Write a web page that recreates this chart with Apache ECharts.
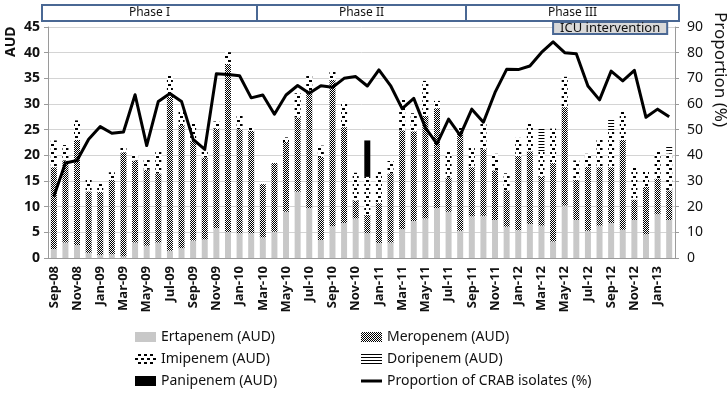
<!DOCTYPE html>
<html>
<head>
<meta charset="utf-8">
<script src="https://cdn.jsdelivr.net/npm/echarts@6/dist/echarts.min.js"></script>
<style>
  html, body { margin: 0; padding: 0; background: #fff; }
  #chart { width: 728px; height: 399px; }
</style>
</head>
<body>
<div id="chart"></div>
<script>
// monthly categories, Sep-08 .. Feb-13
const months = [
  'Sep-08', 'Oct-08', 'Nov-08', 'Dec-08',
  'Jan-09', 'Feb-09', 'Mar-09', 'Apr-09', 'May-09', 'Jun-09', 'Jul-09', 'Aug-09', 'Sep-09', 'Oct-09', 'Nov-09', 'Dec-09',
  'Jan-10', 'Feb-10', 'Mar-10', 'Apr-10', 'May-10', 'Jun-10', 'Jul-10', 'Aug-10', 'Sep-10', 'Oct-10', 'Nov-10', 'Dec-10',
  'Jan-11', 'Feb-11', 'Mar-11', 'Apr-11', 'May-11', 'Jun-11', 'Jul-11', 'Aug-11', 'Sep-11', 'Oct-11', 'Nov-11', 'Dec-11',
  'Jan-12', 'Feb-12', 'Mar-12', 'Apr-12', 'May-12', 'Jun-12', 'Jul-12', 'Aug-12', 'Sep-12', 'Oct-12', 'Nov-12', 'Dec-12',
  'Jan-13', 'Feb-13'
];

// AUD per drug (stacked)
const ertapenem = [
  1.7, 3.0, 2.5, 1.0, 0.6, 0.7, 0.3, 3.0, 2.4, 3.0,
  1.4, 1.9, 3.4, 3.6, 5.8, 5.0, 4.8, 4.8, 4.0, 5.1,
  9.0, 12.9, 9.7, 3.5, 6.2, 6.8, 7.7, 4.8, 2.9, 3.0,
  5.6, 7.2, 7.7, 9.7, 9.0, 5.3, 8.1, 8.2, 7.4, 6.1,
  5.4, 6.6, 6.3, 3.2, 10.2, 7.4, 5.3, 6.3, 6.8, 5.5,
  7.4, 4.6, 8.5, 7.4
];
const meropenem = [
  16, 16, 20.5, 12, 12.3, 14.5, 20.3, 16, 14.8, 13.5,
  30, 24, 19.5, 16, 19.4, 32.8, 20.3, 20, 10.4, 13.4,
  13.6, 14.5, 23, 16.2, 28.5, 18.7, 3.5, 3.6, 7.8, 13.5,
  19.3, 17.5, 20, 19.5, 6.7, 19.5, 9.6, 13, 9.7, 7.1,
  14.5, 14.2, 9.5, 15.3, 19.2, 7.8, 12.5, 11.4, 10.9, 17.5,
  4.0, 9.3, 7.0, 5.8
];
const imipenem = [
  5.2, 3.0, 3.8, 2.2, 1.6, 1.5, 1.1, 1.0, 1.9, 4.5,
  4.4, 2.9, 3.6, 1.2, 1.4, 2.3, 2.6, 0.7, 0.3, 0.2,
  0.9, 4.7, 2.8, 2.2, 1.8, 4.9, 5.4, 7.4, 6.4, 2.4,
  5.9, 3.5, 6.8, 1.4, 5.0, 0.8, 4.0, 5.0, 3.2, 3.3,
  3.5, 5.7, 5.0, 6.7, 5.9, 3.8, 2.5, 5.3, 7.2, 5.7,
  6.3, 2.9, 5.2, 7.2
];
const doripenem = [
  0, 0, 0, 0, 0, 0, 0, 0, 0, 0,
  0, 0, 0, 0, 0, 0, 0, 0, 0, 0,
  0, 0, 0, 0, 0, 0, 0, 0, 0, 0,
  0, 0, 0, 0, 0, 0, 0, 0, 0, 0,
  0, 0, 4.4, 0, 0, 0, 0, 0, 2.3, 0,
  0, 0, 0, 1.4
];
const panipenem = [
  0, 0, 0, 0, 0, 0, 0, 0, 0, 0,
  0, 0, 0, 0, 0, 0, 0, 0, 0, 0,
  0, 0, 0, 0, 0, 0, 0, 7.1, 0, 0,
  0, 0, 0, 0, 0, 0, 0, 0, 0, 0,
  0, 0, 0, 0, 0, 0, 0, 0, 0, 0,
  0, 0, 0, 0
];

// proportion of CRAB isolates (%)
const crab = [
  24, 37, 38, 46.3, 51.2, 48.6, 49.1, 63.6, 43.8, 61,
  64.1, 61, 46.2, 42.3, 71.8, 71.5, 71, 62.4, 63.5, 56,
  63.5, 67.2, 64.2, 67.1, 66.5, 70, 70.7, 67, 73.3, 67.2,
  58.2, 62.2, 50.8, 44.5, 54.1, 47.8, 58, 52.9, 64.5, 73.5,
  73.4, 74.8, 80.1, 84.2, 80, 79.6, 67, 61.6, 72.8, 69,
  73.1, 54.8, 58, 55
];

// study phases (category index ranges)
const phaseNames = ['Phase I', 'Phase II', 'Phase III'];
const phaseStart = [0, 18, 36];
const phaseEnd = [17, 35, 53];
const icuLabel = 'ICU intervention';
const icuStart = 43;
const icuEnd = 53;

const FONT = 'Noto Sans';
const chart = echarts.init(document.getElementById('chart'));

const barSeries = (name, data, color, decal) => ({
  name: name,
  type: 'bar',
  stack: 'aud',
  barWidth: 6,
  data: data,
  itemStyle: decal ? { color: color, decal: decal } : { color: color }
});

const meroDecal = {
  symbol: 'rect', symbolSize: 1, color: '#000', backgroundColor: '#fff',
  dashArrayX: [[1, 1], [0, 1, 1, 0]], dashArrayY: [1, 0]
};
const imiDecal = {
  symbol: 'rect', symbolSize: 1, color: '#000', backgroundColor: '#fff',
  dashArrayX: [[3, 3], [0, 3, 3, 0]], dashArrayY: [2, 2]
};
const doriDecal = {
  symbol: 'rect', symbolSize: 1, color: '#000', backgroundColor: '#fff',
  dashArrayX: [[1, 0]], dashArrayY: [1, 1.5]
};

const legendText = { fontFamily: FONT, fontSize: 14, color: '#111' };
const lineIcon = 'path://M0 0H21V3H0Z';
const legendBase = {
  orient: 'vertical', top: 325, height: 90, itemGap: 8,
  itemWidth: 21, itemHeight: 10, textStyle: legendText
};

chart.setOption({
  backgroundColor: '#fff',
  animation: false,
  textStyle: { fontFamily: FONT },
  grid: { left: 48, right: 52, top: 27, bottom: 141 },
  legend: [
    Object.assign({}, legendBase, {
      left: 130,
      data: [
        { name: 'Ertapenem (AUD)', icon: 'rect' },
        { name: 'Imipenem (AUD)', icon: 'rect' },
        { name: 'Panipenem (AUD)', icon: 'rect' }
      ]
    }),
    Object.assign({}, legendBase, {
      left: 356,
      data: [
        { name: 'Meropenem (AUD)', icon: 'rect' },
        { name: 'Doripenem (AUD)', icon: 'rect' },
        { name: 'Proportion of CRAB isolates (%)', icon: lineIcon }
      ]
    })
  ],
  xAxis: {
    type: 'category',
    data: months,
    axisLine: { lineStyle: { color: '#9a9a9a' } },
    axisTick: { interval: 1, length: 4, lineStyle: { color: '#9a9a9a' } },
    axisLabel: {
      interval: 1, rotate: 90, margin: 8,
      fontFamily: FONT, fontSize: 13, fontWeight: 'bold', color: '#111'
    }
  },
  yAxis: [
    {
      type: 'value', min: 0, max: 45, interval: 5,
      name: 'AUD', nameLocation: 'end', nameRotate: 90, nameGap: -30,
      nameTextStyle: {
        fontFamily: FONT, fontSize: 14, fontWeight: 'bold', color: '#111',
        verticalAlign: 'bottom', padding: [0, 0, 30, 0]
      },
      axisLine: { show: true, lineStyle: { color: '#9a9a9a' } },
      axisTick: { show: true, length: 4, lineStyle: { color: '#9a9a9a' } },
      axisLabel: { fontFamily: FONT, fontSize: 14, fontWeight: 'bold', color: '#111', margin: 8 },
      splitLine: { lineStyle: { color: '#d4d4d4' } }
    },
    {
      type: 'value', min: 0, max: 90, interval: 10,
      name: 'Proportion (%)', nameLocation: 'end', nameRotate: -90, nameGap: -100,
      nameTextStyle: {
        fontFamily: FONT, fontSize: 17, color: '#111',
        verticalAlign: 'bottom', padding: [0, 0, 36, 0]
      },
      axisLine: { show: true, lineStyle: { color: '#9a9a9a' } },
      axisTick: { show: true, length: 4, lineStyle: { color: '#9a9a9a' } },
      axisLabel: { fontFamily: FONT, fontSize: 14, color: '#111', margin: 12 },
      splitLine: { show: false }
    }
  ],
  series: [
    barSeries('Ertapenem (AUD)', ertapenem, '#c8c8c8'),
    barSeries('Meropenem (AUD)', meropenem, '#fff', meroDecal),
    barSeries('Imipenem (AUD)', imipenem, '#fff', imiDecal),
    barSeries('Doripenem (AUD)', doripenem, '#fff', doriDecal),
    barSeries('Panipenem (AUD)', panipenem, '#000'),
    {
      name: 'Proportion of CRAB isolates (%)',
      type: 'line',
      yAxisIndex: 1,
      data: crab,
      symbol: 'none',
      lineStyle: { color: '#000', width: 3, join: 'round' },
      itemStyle: { color: '#000' },
      z: 5
    }
  ]
});

// phase boxes above the plot, placed from the category axis
const px = i => chart.convertToPixel({ xAxisIndex: 0 }, i);
const band = px(1) - px(0);
const labelStyle = { fontFamily: FONT, fontSize: 12, fill: '#111', textAlign: 'center', textVerticalAlign: 'middle' };

const graphics = [];
phaseNames.forEach((name, k) => {
  let x0 = px(phaseStart[k]) - band / 2;
  let x1 = px(phaseEnd[k]) + band / 2;
  if (k === 0) x0 -= 6;
  if (k === phaseNames.length - 1) x1 += 4;
  graphics.push({
    type: 'rect', z: 10,
    shape: { x: x0, y: 5, width: x1 - x0, height: 16 },
    style: { fill: '#fff', stroke: '#4a6894', lineWidth: 2 }
  });
  graphics.push({
    type: 'text', z: 11, x: (x0 + x1) / 2, y: 13,
    style: Object.assign({ text: name }, labelStyle)
  });
});
const icuX0 = px(icuStart);
const icuX1 = px(icuEnd) - 2;
graphics.push({
  type: 'rect', z: 12,
  shape: { x: icuX0, y: 22, width: icuX1 - icuX0, height: 12 },
  style: { fill: '#d9d9d9', stroke: '#4a6894', lineWidth: 2 }
});
graphics.push({
  type: 'text', z: 13, x: (icuX0 + icuX1) / 2, y: 28,
  style: Object.assign({ text: icuLabel }, labelStyle, { fontSize: 13 })
});

chart.setOption({ graphic: graphics });
</script>
</body>
</html>
